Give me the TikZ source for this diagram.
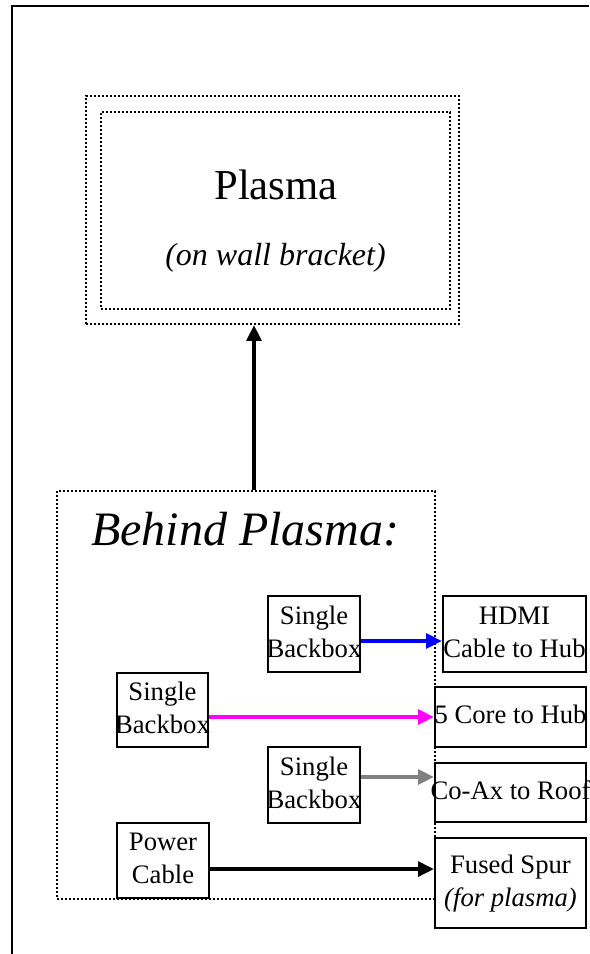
\documentclass[tikz,border=0pt]{standalone}
\usepackage{fontspec}
\setmainfont{Liberation Serif}
\usepackage{xcolor}
\usepackage{tikz}
\usetikzlibrary{arrows.meta}
\usetikzlibrary{shapes}

\definecolor{cablepink}{RGB}{255,0,255}
\definecolor{cableblue}{RGB}{0,0,255}
\definecolor{cablegrey}{RGB}{128,128,128}

\newcommand{\boxlbl}[1]{\makebox[0pt]{\begin{tabular}{@{}c@{}}#1\end{tabular}}}

\tikzset{
    dotbox/.style = {draw, line width = 0.75pt, dash pattern = on 0.75pt off 0.75pt,
        inner sep = 0pt},
    wirebox/.style = {draw, fill = white, line width = 0.75pt, inner sep = 0pt,
        font = \fontsize{10}{12.4}\selectfont},
    wire/.style = {line width = 1.5pt, -{Triangle[length = 6pt, width = 5.5pt]}}
}

\begin{document}
\begin{tikzpicture}[x = 0.375pt, y = -0.375pt]
        \useasboundingbox (0, 0) rectangle (589, 954);
        \draw[line width = 0.75pt] (12, 954) -- (12, 6) -- (589, 6);

        \node[dotbox, minimum width = 139.875pt, minimum height = 85.5pt] (plasma) at (272.5, 210) {};
        \node[dotbox, minimum width = 130.875pt, minimum height = 73.875pt] (screen) at (275.5, 210.5) {};
        \node[anchor = base, font = \fontsize{16}{19}\selectfont] (plasmaname) at (276, 200) {Plasma};
        \node[anchor = base, font = \fontsize{12}{14}\selectfont\itshape] (bracket) at (275.5, 266) {(on wall bracket)};

        \node[dotbox, minimum width = 141.75pt, minimum height = 153pt] (behind) at (246, 695) {};
        \node[anchor = base, font = \fontsize{18}{21}\selectfont\itshape] (behindname) at (245, 545) {Behind Plasma:};

        \node[wirebox, minimum width = 34.5pt, minimum height = 28.5pt] (bb1) at (314, 634) {\boxlbl{Single\\Backbox}};
        \node[wirebox, minimum width = 53.625pt, minimum height = 28.5pt] (hdmi) at (514.5, 634) {\boxlbl{HDMI\\Cable to Hub}};
        \node[wirebox, minimum width = 34.125pt, minimum height = 27.75pt] (bb2) at (162.5, 710) {\boxlbl{Single\\Backbox}};
        \node[wirebox, minimum width = 56.625pt, minimum height = 22.5pt] (core) at (510.5, 717) {\boxlbl{5 Core to Hub}};
        \node[wirebox, minimum width = 34.5pt, minimum height = 28.5pt] (bb3) at (314, 785) {\boxlbl{Single\\Backbox}};
        \node[wirebox, minimum width = 56.625pt, minimum height = 22.125pt] (coax) at (510.5, 792.5) {\boxlbl{Co-Ax to Roof}};
        \node[wirebox, minimum width = 34.5pt, minimum height = 28.125pt] (power) at (163, 860.5) {\boxlbl{Power\\Cable}};
        \node[wirebox, minimum width = 56.625pt, minimum height = 33.75pt] (fused) at (510.5, 883) {\boxlbl{Fused Spur\\\textit{(for plasma)}}};

        \coordinate (up) at ([xshift = 3pt]behind.north);
        \coordinate (hdmiout) at ([yshift = -2.625pt]bb1.east);
        \coordinate (coreout) at ([yshift = -2.625pt]bb2.east);
        \coordinate (coaxout) at ([yshift = 3pt]bb3.east);
        \coordinate (powerout) at ([yshift = -3.2pt]power.east);

        \draw[wire] (up) -- (up |- plasma.south);
        \draw[wire, cableblue] (hdmiout) -- (hdmiout -| hdmi.west);
        \draw[wire, cablepink] (coreout) -- (coreout -| core.west);
        \draw[wire, cablegrey] (coaxout) -- (coaxout -| coax.west);
        \draw[wire, black] (powerout) -- (powerout -| fused.west);
    \end{tikzpicture}
\end{document}
